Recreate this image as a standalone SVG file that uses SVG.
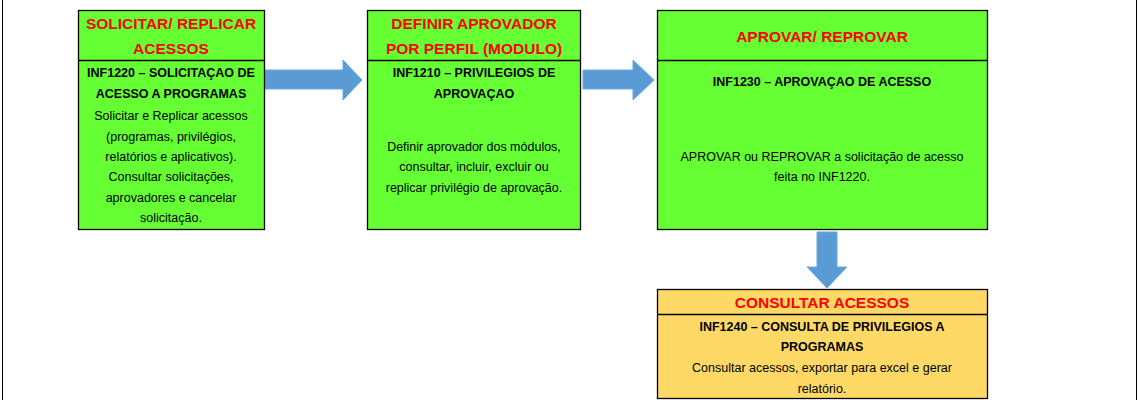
<svg xmlns="http://www.w3.org/2000/svg" width="1139" height="400" viewBox="0 0 1139 400">
<style>
.box{stroke:#000;stroke-width:1.3}
.g{fill:#66ff33}.y{fill:#ffd966}
.h{font-family:"Liberation Sans",Arial,sans-serif;font-size:15.5px;font-weight:bold;fill:#ff0000;text-anchor:middle}
.b{font-family:"Liberation Sans",Arial,sans-serif;font-size:12.5px;font-weight:bold;fill:#000;text-anchor:middle}
.t{font-family:"Liberation Sans",Arial,sans-serif;font-size:12.5px;fill:#000;text-anchor:middle}
.arr{fill:#5b9bd5;stroke:#6fa8dc;stroke-width:1}
</style>
<rect width="1139" height="400" fill="#fff"/>
<line x1="2.5" y1="0" x2="2.5" y2="400" stroke="#000"/>
<line x1="1136.5" y1="0" x2="1136.5" y2="400" stroke="#000"/>
<g id="connectors">
<path class="arr" d="M265 70 H343 V60 L362 80 L343 100 V89 H265 Z"/>
<path class="arr" d="M583 70 H633 V60 L654 80 L633 100 V89 H583 Z"/>
<path class="arr" d="M817 232 H837 V267 H847 L827 288 L807 267 H817 Z"/>
</g>
<g id="n1">
<rect class="box g" x="78.5" y="10.5" width="186" height="219"/>
<line class="box" x1="78.5" y1="60.5" x2="264.5" y2="60.5"/>
<text class="h" x="171" y="29">SOLICITAR/ REPLICAR</text>
<text class="h" x="171" y="54">ACESSOS</text>
<text class="b" x="171" y="77">INF1220 – SOLICITAÇAO DE</text>
<text class="b" x="171" y="98">ACESSO A PROGRAMAS</text>
<text class="t" x="171" y="120">Solicitar e Replicar acessos</text>
<text class="t" x="171" y="141">(programas, privilégios,</text>
<text class="t" x="171" y="161">relatórios e aplicativos).</text>
<text class="t" x="171" y="181">Consultar solicitações,</text>
<text class="t" x="171" y="202">aprovadores e cancelar</text>
<text class="t" x="171" y="222">solicitação.</text>
</g>
<g id="n2">
<rect class="box g" x="367.5" y="10.5" width="213" height="219"/>
<line class="box" x1="367.5" y1="60.5" x2="580.5" y2="60.5"/>
<text class="h" x="474" y="29">DEFINIR APROVADOR</text>
<text class="h" x="474" y="54">POR PERFIL (MODULO)</text>
<text class="b" x="474" y="77">INF1210 – PRIVILEGIOS DE</text>
<text class="b" x="474" y="98">APROVAÇAO</text>
<text class="t" x="474" y="151">Definir aprovador dos módulos,</text>
<text class="t" x="474" y="171">consultar, incluir, excluir ou</text>
<text class="t" x="474" y="192">replicar privilégio de aprovação.</text>
</g>
<g id="n3">
<rect class="box g" x="657.5" y="10.5" width="330" height="219"/>
<line class="box" x1="657.5" y1="60.5" x2="987.5" y2="60.5"/>
<text class="h" x="822" y="42">APROVAR/ REPROVAR</text>
<text class="b" x="822" y="86">INF1230 – APROVAÇAO DE ACESSO</text>
<text class="t" x="822" y="161">APROVAR ou REPROVAR a solicitação de acesso</text>
<text class="t" x="822" y="181">feita no INF1220.</text>
</g>
<g id="n4">
<rect class="box y" x="657.5" y="289.5" width="330" height="109"/>
<line class="box" x1="657.5" y1="314.5" x2="987.5" y2="314.5"/>
<text class="h" x="822" y="308">CONSULTAR ACESSOS</text>
<text class="b" x="822" y="331">INF1240 – CONSULTA DE PRIVILEGIOS A</text>
<text class="b" x="822" y="351">PROGRAMAS</text>
<text class="t" x="822" y="372">Consultar acessos, exportar para excel e gerar</text>
<text class="t" x="822" y="393">relatório.</text>
</g>
</svg>
